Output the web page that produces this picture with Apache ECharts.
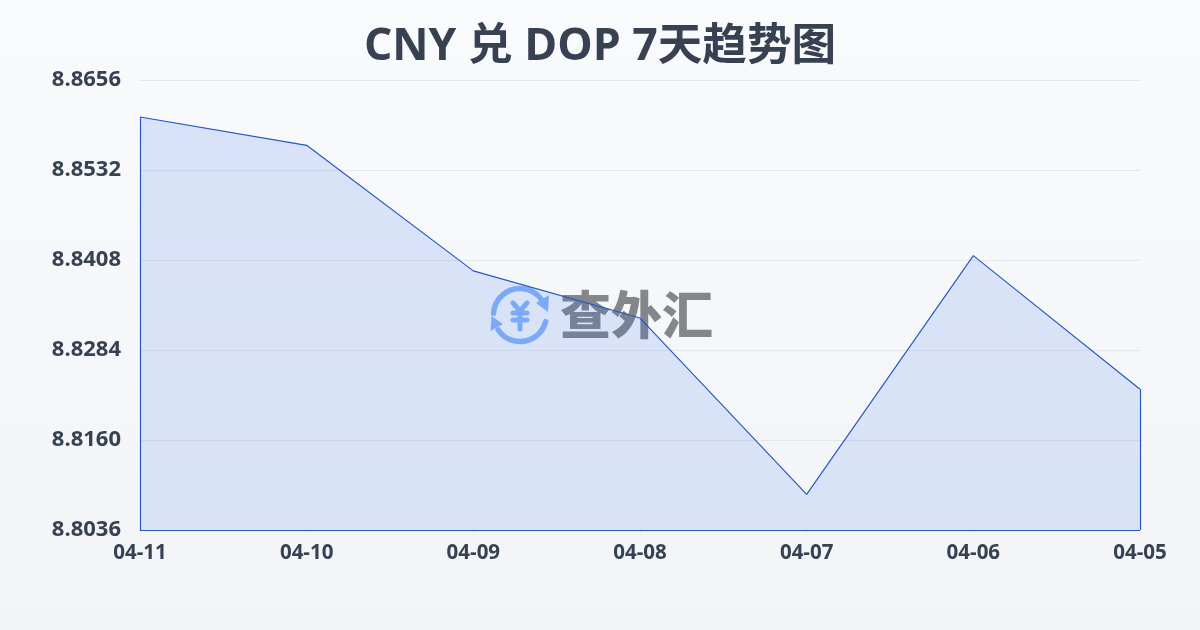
<!DOCTYPE html>
<html><head><meta charset="utf-8">
<style>html,body{margin:0;padding:0;width:1200px;height:630px;overflow:hidden;background:linear-gradient(180deg,#f9fafc,#f2f4f7)}#c{width:1200px;height:630px}</style>
<script src="https://cdn.jsdelivr.net/npm/echarts@6/dist/echarts.min.js"></script>
</head><body><div id="c"></div>
<script>
const titleText = 'CNY 兑 DOP 7天趋势图';
const categories = ['04-11','04-10','04-09','04-08','04-07','04-06','04-05'];
const values = [8.8605,8.8566,8.8393,8.8328,8.8085,8.8414,8.8230];
const yMin = 8.8036, yMax = 8.8656, yStep = 0.0124;
const FONT = '"Open Sans","Noto Sans CJK SC",sans-serif';
const chart = echarts.init(document.getElementById('c'), null, {renderer:'canvas'});
const lineBlue = '#2456c0';
const iconBlue = '#8ab4f8';
const inkGrey = 'rgba(70,73,82,0.65)';
const arc = (a,b)=>({type:'arc',shape:{cx:520,cy:315,r:26.5,startAngle:a,endAngle:b},style:{stroke:iconBlue,fill:null,lineWidth:5.5,lineCap:'round'}});
const seg = (a,b,c,d)=>({type:'line',shape:{x1:a,y1:b,x2:c,y2:d},style:{stroke:iconBlue,lineWidth:5,lineCap:'round'}});
chart.setOption({
  animation:false,
  backgroundColor:'transparent',
  title:{text:titleText,left:'center',top:20,textStyle:{fontFamily:FONT,fontSize:44.6,fontWeight:'bold',color:'#374151'}},
  grid:{left:140,right:60,top:80,bottom:100,containLabel:false},
  xAxis:{type:'category',data:categories,boundaryGap:false,
    axisLine:{show:false},
    axisTick:{show:true,length:10,lineStyle:{color:'#e5e7eb',opacity:.5}},
    axisLabel:{interval:0,margin:12.5,fontFamily:FONT,fontSize:20.5,fontWeight:'bold',color:'#374151'},
    splitLine:{show:false}},
  yAxis:{type:'value',min:yMin,max:yMax,interval:yStep,
    axisLine:{show:false},axisTick:{show:false},
    axisLabel:{margin:19,formatter:v=>v.toFixed(4),fontFamily:FONT,fontSize:22,fontWeight:'bold',color:'#374151'},
    splitLine:{lineStyle:{color:'#e5e7eb',width:1}}},
  series:[{type:'line',data:values,symbol:'none',smooth:false,z:3,
    lineStyle:{color:lineBlue,width:1.15},
    areaStyle:{opacity:1,origin:'start',color:{type:'linear',x:0,y:0,x2:0,y2:1,colorStops:[{offset:0,color:'rgba(37,99,235,0.15)'},{offset:1,color:'rgba(37,99,235,0.12)'}]}},
    markLine:{silent:true,symbol:'none',label:{show:false},lineStyle:{color:lineBlue,width:1.15,type:'solid'},
      data:[
        [{coord:[categories[0],yMin]},{coord:[categories[0],values[0]]}],
        [{coord:[categories[6],yMin]},{coord:[categories[6],values[6]]}],
        [{coord:[categories[0],yMin]},{coord:[categories[6],yMin]}]
      ]}
  }],
  graphic:[{type:'group',z:100,silent:true,children:[
    arc(-3.08,-0.58), arc(0.25,2.54),
    {type:'polygon',shape:{points:[[549,295],[548,312],[536,303]]},style:{fill:iconBlue}},
    {type:'polygon',shape:{points:[[491.5,316],[490.5,331],[503,324]]},style:{fill:iconBlue}},
    seg(513,303,520,311), seg(527,303,520,311), seg(513,313,527,313), seg(513,320,527,320), seg(520,311,520,329),
    {type:'text',style:{text:'查外汇',x:560,y:315,align:'left',verticalAlign:'middle',fontFamily:'"Noto Sans CJK SC",sans-serif',fontSize:51,fontWeight:900,fill:inkGrey}}
  ]}]
});
</script></body></html>
